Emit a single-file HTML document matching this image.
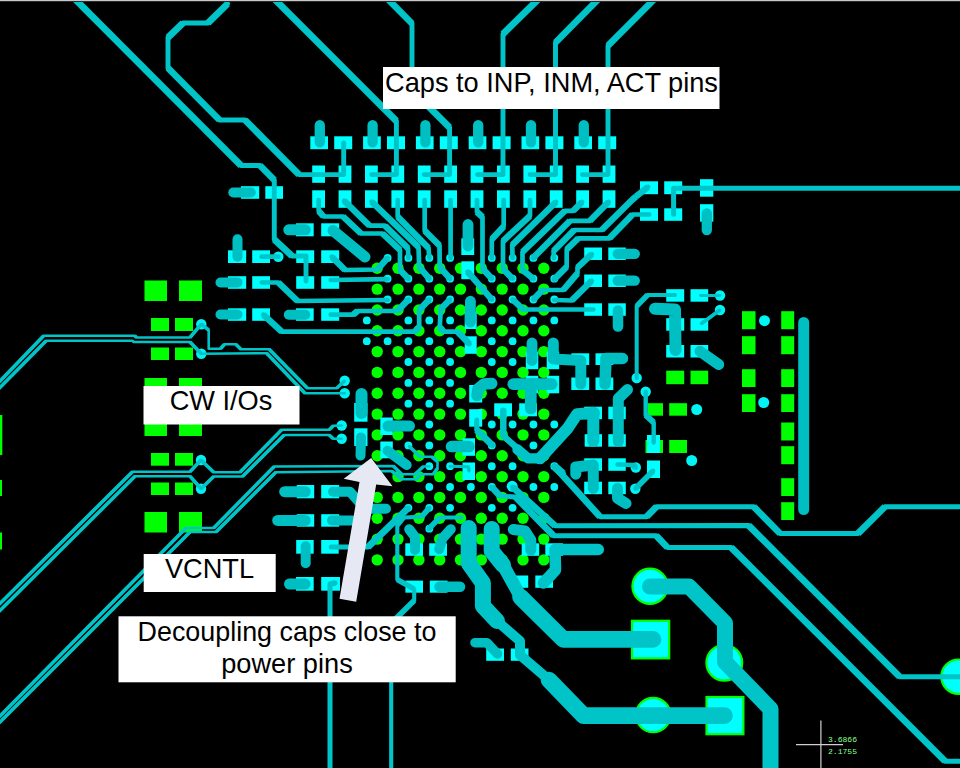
<!DOCTYPE html>
<html><head><meta charset="utf-8"><title>PCB layout</title>
<style>html,body{margin:0;padding:0;background:#000;overflow:hidden}svg{display:block}</style></head>
<body><svg width="960" height="768" viewBox="0 0 960 768">
<rect width="960" height="768" fill="#000"/>
<rect x="144.5" y="280.5" width="22.5" height="20.5" fill="#00ff00"/>
<rect x="179.0" y="280.5" width="23.0" height="20.5" fill="#00ff00"/>
<rect x="151.0" y="318.0" width="18.0" height="13.0" fill="#00ff00"/>
<rect x="175.0" y="318.0" width="18.0" height="13.0" fill="#00ff00"/>
<rect x="151.0" y="347.5" width="18.0" height="12.5" fill="#00ff00"/>
<rect x="175.0" y="347.5" width="18.0" height="12.5" fill="#00ff00"/>
<rect x="144.5" y="378.0" width="22.5" height="21.0" fill="#00ff00"/>
<rect x="179.0" y="378.0" width="23.0" height="21.0" fill="#00ff00"/>
<rect x="144.5" y="415.0" width="22.5" height="21.0" fill="#00ff00"/>
<rect x="179.0" y="415.0" width="23.0" height="21.0" fill="#00ff00"/>
<rect x="151.0" y="453.0" width="18.0" height="12.7" fill="#00ff00"/>
<rect x="175.0" y="453.0" width="18.0" height="12.7" fill="#00ff00"/>
<rect x="151.0" y="482.5" width="18.0" height="12.5" fill="#00ff00"/>
<rect x="175.0" y="482.5" width="18.0" height="12.5" fill="#00ff00"/>
<rect x="144.5" y="512.0" width="22.5" height="20.5" fill="#00ff00"/>
<rect x="179.0" y="512.0" width="23.0" height="20.5" fill="#00ff00"/>
<rect x="0.0" y="415.0" width="2.3" height="40.0" fill="#00ff00"/>
<rect x="0.0" y="480.0" width="2.0" height="16.0" fill="#00ff00"/>
<rect x="0.0" y="532.5" width="2.0" height="17.0" fill="#00ff00"/>
<rect x="666.2" y="370.7" width="18.0" height="13.5" fill="#00ff00"/>
<rect x="690.5" y="370.7" width="17.7" height="13.5" fill="#00ff00"/>
<rect x="648.0" y="403.2" width="15.0" height="12.5" fill="#00ff00"/>
<rect x="669.2" y="403.2" width="17.8" height="12.5" fill="#00ff00"/>
<rect x="645.5" y="440.0" width="17.5" height="13.0" fill="#00ff00"/>
<rect x="669.2" y="440.0" width="17.8" height="13.0" fill="#00ff00"/>
<rect x="742.0" y="311.2" width="13.5" height="18.0" fill="#00ff00"/>
<rect x="742.0" y="336.2" width="13.5" height="18.0" fill="#00ff00"/>
<rect x="742.0" y="369.2" width="13.5" height="17.8" fill="#00ff00"/>
<rect x="742.0" y="394.2" width="13.5" height="17.8" fill="#00ff00"/>
<rect x="781.2" y="311.2" width="13.0" height="18.0" fill="#00ff00"/>
<rect x="781.2" y="336.2" width="13.0" height="18.0" fill="#00ff00"/>
<rect x="781.2" y="369.2" width="13.0" height="17.8" fill="#00ff00"/>
<rect x="781.2" y="394.2" width="13.0" height="17.8" fill="#00ff00"/>
<rect x="781.2" y="422.5" width="13.0" height="18.0" fill="#00ff00"/>
<rect x="781.2" y="446.2" width="13.0" height="18.0" fill="#00ff00"/>
<rect x="781.2" y="478.2" width="13.0" height="17.8" fill="#00ff00"/>
<rect x="781.2" y="502.2" width="13.0" height="17.8" fill="#00ff00"/>
<circle cx="377.2" cy="268.3" r="5.7" fill="#00ff00"/>
<circle cx="377.2" cy="289.1" r="5.7" fill="#00ff00"/>
<circle cx="377.2" cy="310.0" r="5.7" fill="#00ff00"/>
<circle cx="377.2" cy="330.8" r="5.7" fill="#00ff00"/>
<circle cx="377.2" cy="351.6" r="5.7" fill="#00ff00"/>
<circle cx="377.2" cy="372.4" r="5.7" fill="#00ff00"/>
<circle cx="377.2" cy="393.3" r="5.7" fill="#00ff00"/>
<circle cx="377.2" cy="414.1" r="5.7" fill="#00ff00"/>
<circle cx="377.2" cy="434.9" r="5.7" fill="#00ff00"/>
<circle cx="377.2" cy="455.8" r="5.7" fill="#00ff00"/>
<circle cx="377.2" cy="476.6" r="5.7" fill="#00ff00"/>
<circle cx="377.2" cy="497.4" r="5.7" fill="#00ff00"/>
<circle cx="377.2" cy="518.3" r="5.7" fill="#00ff00"/>
<circle cx="377.2" cy="539.1" r="5.7" fill="#00ff00"/>
<circle cx="377.2" cy="559.9" r="5.7" fill="#00ff00"/>
<circle cx="398.0" cy="268.3" r="5.7" fill="#00ff00"/>
<circle cx="398.0" cy="289.1" r="5.7" fill="#00ff00"/>
<circle cx="398.0" cy="310.0" r="5.7" fill="#00ff00"/>
<circle cx="398.0" cy="330.8" r="5.7" fill="#00ff00"/>
<circle cx="398.0" cy="351.6" r="5.7" fill="#00ff00"/>
<circle cx="398.0" cy="372.4" r="5.7" fill="#00ff00"/>
<circle cx="398.0" cy="393.3" r="5.7" fill="#00ff00"/>
<circle cx="398.0" cy="414.1" r="5.7" fill="#00ff00"/>
<circle cx="398.0" cy="434.9" r="5.7" fill="#00ff00"/>
<circle cx="398.0" cy="455.8" r="5.7" fill="#00ff00"/>
<circle cx="398.0" cy="476.6" r="5.7" fill="#00ff00"/>
<circle cx="398.0" cy="497.4" r="5.7" fill="#00ff00"/>
<circle cx="398.0" cy="518.3" r="5.7" fill="#00ff00"/>
<circle cx="398.0" cy="539.1" r="5.7" fill="#00ff00"/>
<circle cx="398.0" cy="559.9" r="5.7" fill="#00ff00"/>
<circle cx="418.9" cy="268.3" r="5.7" fill="#00ff00"/>
<circle cx="418.9" cy="289.1" r="5.7" fill="#00ff00"/>
<circle cx="418.9" cy="310.0" r="5.7" fill="#00ff00"/>
<circle cx="418.9" cy="330.8" r="5.7" fill="#00ff00"/>
<circle cx="418.9" cy="351.6" r="5.7" fill="#00ff00"/>
<circle cx="418.9" cy="372.4" r="5.7" fill="#00ff00"/>
<circle cx="418.9" cy="393.3" r="5.7" fill="#00ff00"/>
<circle cx="418.9" cy="414.1" r="5.7" fill="#00ff00"/>
<circle cx="418.9" cy="434.9" r="5.7" fill="#00ff00"/>
<circle cx="418.9" cy="455.8" r="5.7" fill="#00ff00"/>
<circle cx="418.9" cy="476.6" r="5.7" fill="#00ff00"/>
<circle cx="418.9" cy="497.4" r="5.7" fill="#00ff00"/>
<circle cx="418.9" cy="518.3" r="5.7" fill="#00ff00"/>
<circle cx="418.9" cy="539.1" r="5.7" fill="#00ff00"/>
<circle cx="418.9" cy="559.9" r="5.7" fill="#00ff00"/>
<circle cx="439.7" cy="268.3" r="5.7" fill="#00ff00"/>
<circle cx="439.7" cy="289.1" r="5.7" fill="#00ff00"/>
<circle cx="439.7" cy="310.0" r="5.7" fill="#00ff00"/>
<circle cx="439.7" cy="330.8" r="5.7" fill="#00ff00"/>
<circle cx="439.7" cy="351.6" r="5.7" fill="#00ff00"/>
<circle cx="439.7" cy="372.4" r="5.7" fill="#00ff00"/>
<circle cx="439.7" cy="393.3" r="5.7" fill="#00ff00"/>
<circle cx="439.7" cy="414.1" r="5.7" fill="#00ff00"/>
<circle cx="439.7" cy="434.9" r="5.7" fill="#00ff00"/>
<circle cx="439.7" cy="455.8" r="5.7" fill="#00ff00"/>
<circle cx="439.7" cy="476.6" r="5.7" fill="#00ff00"/>
<circle cx="439.7" cy="497.4" r="5.7" fill="#00ff00"/>
<circle cx="439.7" cy="518.3" r="5.7" fill="#00ff00"/>
<circle cx="439.7" cy="539.1" r="5.7" fill="#00ff00"/>
<circle cx="439.7" cy="559.9" r="5.7" fill="#00ff00"/>
<circle cx="460.5" cy="268.3" r="5.7" fill="#00ff00"/>
<circle cx="460.5" cy="289.1" r="5.7" fill="#00ff00"/>
<circle cx="460.5" cy="310.0" r="5.7" fill="#00ff00"/>
<circle cx="460.5" cy="330.8" r="5.7" fill="#00ff00"/>
<circle cx="460.5" cy="351.6" r="5.7" fill="#00ff00"/>
<circle cx="460.5" cy="372.4" r="5.7" fill="#00ff00"/>
<circle cx="460.5" cy="393.3" r="5.7" fill="#00ff00"/>
<circle cx="460.5" cy="414.1" r="5.7" fill="#00ff00"/>
<circle cx="460.5" cy="434.9" r="5.7" fill="#00ff00"/>
<circle cx="460.5" cy="455.8" r="5.7" fill="#00ff00"/>
<circle cx="460.5" cy="476.6" r="5.7" fill="#00ff00"/>
<circle cx="460.5" cy="497.4" r="5.7" fill="#00ff00"/>
<circle cx="460.5" cy="518.3" r="5.7" fill="#00ff00"/>
<circle cx="460.5" cy="539.1" r="5.7" fill="#00ff00"/>
<circle cx="460.5" cy="559.9" r="5.7" fill="#00ff00"/>
<circle cx="481.3" cy="268.3" r="5.7" fill="#00ff00"/>
<circle cx="481.3" cy="289.1" r="5.7" fill="#00ff00"/>
<circle cx="481.3" cy="310.0" r="5.7" fill="#00ff00"/>
<circle cx="481.3" cy="330.8" r="5.7" fill="#00ff00"/>
<circle cx="481.3" cy="351.6" r="5.7" fill="#00ff00"/>
<circle cx="481.3" cy="372.4" r="5.7" fill="#00ff00"/>
<circle cx="481.3" cy="393.3" r="5.7" fill="#00ff00"/>
<circle cx="481.3" cy="414.1" r="5.7" fill="#00ff00"/>
<circle cx="481.3" cy="434.9" r="5.7" fill="#00ff00"/>
<circle cx="481.3" cy="455.8" r="5.7" fill="#00ff00"/>
<circle cx="481.3" cy="476.6" r="5.7" fill="#00ff00"/>
<circle cx="481.3" cy="497.4" r="5.7" fill="#00ff00"/>
<circle cx="481.3" cy="518.3" r="5.7" fill="#00ff00"/>
<circle cx="481.3" cy="539.1" r="5.7" fill="#00ff00"/>
<circle cx="481.3" cy="559.9" r="5.7" fill="#00ff00"/>
<circle cx="502.2" cy="268.3" r="5.7" fill="#00ff00"/>
<circle cx="502.2" cy="289.1" r="5.7" fill="#00ff00"/>
<circle cx="502.2" cy="310.0" r="5.7" fill="#00ff00"/>
<circle cx="502.2" cy="330.8" r="5.7" fill="#00ff00"/>
<circle cx="502.2" cy="351.6" r="5.7" fill="#00ff00"/>
<circle cx="502.2" cy="372.4" r="5.7" fill="#00ff00"/>
<circle cx="502.2" cy="393.3" r="5.7" fill="#00ff00"/>
<circle cx="502.2" cy="414.1" r="5.7" fill="#00ff00"/>
<circle cx="502.2" cy="434.9" r="5.7" fill="#00ff00"/>
<circle cx="502.2" cy="455.8" r="5.7" fill="#00ff00"/>
<circle cx="502.2" cy="476.6" r="5.7" fill="#00ff00"/>
<circle cx="502.2" cy="497.4" r="5.7" fill="#00ff00"/>
<circle cx="502.2" cy="518.3" r="5.7" fill="#00ff00"/>
<circle cx="502.2" cy="539.1" r="5.7" fill="#00ff00"/>
<circle cx="502.2" cy="559.9" r="5.7" fill="#00ff00"/>
<circle cx="523.0" cy="268.3" r="5.7" fill="#00ff00"/>
<circle cx="523.0" cy="289.1" r="5.7" fill="#00ff00"/>
<circle cx="523.0" cy="310.0" r="5.7" fill="#00ff00"/>
<circle cx="523.0" cy="330.8" r="5.7" fill="#00ff00"/>
<circle cx="523.0" cy="351.6" r="5.7" fill="#00ff00"/>
<circle cx="523.0" cy="372.4" r="5.7" fill="#00ff00"/>
<circle cx="523.0" cy="393.3" r="5.7" fill="#00ff00"/>
<circle cx="523.0" cy="414.1" r="5.7" fill="#00ff00"/>
<circle cx="523.0" cy="434.9" r="5.7" fill="#00ff00"/>
<circle cx="523.0" cy="455.8" r="5.7" fill="#00ff00"/>
<circle cx="523.0" cy="476.6" r="5.7" fill="#00ff00"/>
<circle cx="523.0" cy="497.4" r="5.7" fill="#00ff00"/>
<circle cx="523.0" cy="518.3" r="5.7" fill="#00ff00"/>
<circle cx="523.0" cy="539.1" r="5.7" fill="#00ff00"/>
<circle cx="523.0" cy="559.9" r="5.7" fill="#00ff00"/>
<circle cx="543.8" cy="268.3" r="5.7" fill="#00ff00"/>
<circle cx="543.8" cy="289.1" r="5.7" fill="#00ff00"/>
<circle cx="543.8" cy="310.0" r="5.7" fill="#00ff00"/>
<circle cx="543.8" cy="330.8" r="5.7" fill="#00ff00"/>
<circle cx="543.8" cy="351.6" r="5.7" fill="#00ff00"/>
<circle cx="543.8" cy="372.4" r="5.7" fill="#00ff00"/>
<circle cx="543.8" cy="393.3" r="5.7" fill="#00ff00"/>
<circle cx="543.8" cy="414.1" r="5.7" fill="#00ff00"/>
<circle cx="543.8" cy="434.9" r="5.7" fill="#00ff00"/>
<circle cx="543.8" cy="455.8" r="5.7" fill="#00ff00"/>
<circle cx="543.8" cy="476.6" r="5.7" fill="#00ff00"/>
<circle cx="543.8" cy="497.4" r="5.7" fill="#00ff00"/>
<circle cx="543.8" cy="518.3" r="5.7" fill="#00ff00"/>
<circle cx="543.8" cy="539.1" r="5.7" fill="#00ff00"/>
<circle cx="543.8" cy="559.9" r="5.7" fill="#00ff00"/>
<rect x="310.3" y="136.3" width="17.7" height="12.9" fill="#00ffff"/>
<rect x="334.2" y="136.3" width="18.0" height="12.9" fill="#00ffff"/>
<rect x="363.1" y="136.3" width="17.7" height="12.9" fill="#00ffff"/>
<rect x="387.0" y="136.3" width="18.0" height="12.9" fill="#00ffff"/>
<rect x="415.9" y="136.3" width="17.7" height="12.9" fill="#00ffff"/>
<rect x="439.8" y="136.3" width="18.0" height="12.9" fill="#00ffff"/>
<rect x="468.7" y="136.3" width="17.7" height="12.9" fill="#00ffff"/>
<rect x="492.6" y="136.3" width="18.0" height="12.9" fill="#00ffff"/>
<rect x="521.5" y="136.3" width="17.7" height="12.9" fill="#00ffff"/>
<rect x="545.4" y="136.3" width="18.0" height="12.9" fill="#00ffff"/>
<rect x="574.3" y="136.3" width="17.7" height="12.9" fill="#00ffff"/>
<rect x="598.2" y="136.3" width="18.0" height="12.9" fill="#00ffff"/>
<rect x="312.2" y="165.5" width="12.8" height="17.3" fill="#00ffff"/>
<rect x="312.2" y="190.3" width="12.8" height="17.5" fill="#00ffff"/>
<rect x="338.6" y="165.5" width="12.8" height="17.3" fill="#00ffff"/>
<rect x="338.6" y="190.3" width="12.8" height="17.5" fill="#00ffff"/>
<rect x="365.0" y="165.5" width="12.8" height="17.3" fill="#00ffff"/>
<rect x="365.0" y="190.3" width="12.8" height="17.5" fill="#00ffff"/>
<rect x="391.4" y="165.5" width="12.8" height="17.3" fill="#00ffff"/>
<rect x="391.4" y="190.3" width="12.8" height="17.5" fill="#00ffff"/>
<rect x="417.8" y="165.5" width="12.8" height="17.3" fill="#00ffff"/>
<rect x="417.8" y="190.3" width="12.8" height="17.5" fill="#00ffff"/>
<rect x="444.2" y="165.5" width="12.8" height="17.3" fill="#00ffff"/>
<rect x="444.2" y="190.3" width="12.8" height="17.5" fill="#00ffff"/>
<rect x="470.6" y="165.5" width="12.8" height="17.3" fill="#00ffff"/>
<rect x="470.6" y="190.3" width="12.8" height="17.5" fill="#00ffff"/>
<rect x="497.0" y="165.5" width="12.8" height="17.3" fill="#00ffff"/>
<rect x="497.0" y="190.3" width="12.8" height="17.5" fill="#00ffff"/>
<rect x="523.4" y="165.5" width="12.8" height="17.3" fill="#00ffff"/>
<rect x="523.4" y="190.3" width="12.8" height="17.5" fill="#00ffff"/>
<rect x="549.8" y="165.5" width="12.8" height="17.3" fill="#00ffff"/>
<rect x="549.8" y="190.3" width="12.8" height="17.5" fill="#00ffff"/>
<rect x="576.2" y="165.5" width="12.8" height="17.3" fill="#00ffff"/>
<rect x="576.2" y="190.3" width="12.8" height="17.5" fill="#00ffff"/>
<rect x="602.6" y="165.5" width="12.8" height="17.3" fill="#00ffff"/>
<rect x="602.6" y="190.3" width="12.8" height="17.5" fill="#00ffff"/>
<rect x="241.0" y="186.2" width="18.2" height="12.6" fill="#00ffff"/>
<rect x="265.3" y="186.2" width="17.7" height="12.6" fill="#00ffff"/>
<rect x="296.0" y="223.3" width="17.7" height="13.0" fill="#00ffff"/>
<rect x="321.2" y="223.3" width="18.0" height="13.0" fill="#00ffff"/>
<rect x="228.0" y="250.3" width="18.2" height="12.7" fill="#00ffff"/>
<rect x="252.2" y="250.3" width="17.8" height="12.7" fill="#00ffff"/>
<rect x="296.2" y="250.3" width="18.0" height="12.7" fill="#00ffff"/>
<rect x="321.2" y="250.3" width="18.0" height="12.7" fill="#00ffff"/>
<rect x="228.0" y="276.2" width="18.2" height="12.6" fill="#00ffff"/>
<rect x="252.2" y="276.2" width="17.8" height="12.6" fill="#00ffff"/>
<rect x="296.2" y="276.2" width="18.0" height="12.6" fill="#00ffff"/>
<rect x="321.2" y="276.2" width="18.0" height="12.6" fill="#00ffff"/>
<rect x="228.0" y="308.3" width="18.2" height="12.5" fill="#00ffff"/>
<rect x="252.2" y="308.3" width="17.8" height="12.5" fill="#00ffff"/>
<rect x="296.0" y="308.3" width="17.7" height="12.5" fill="#00ffff"/>
<rect x="321.2" y="308.3" width="18.0" height="12.5" fill="#00ffff"/>
<rect x="354.2" y="403.0" width="13.3" height="18.7" fill="#00ffff"/>
<rect x="354.2" y="428.3" width="13.3" height="17.7" fill="#00ffff"/>
<rect x="296.7" y="485.0" width="17.5" height="13.3" fill="#00ffff"/>
<rect x="321.2" y="485.0" width="18.0" height="13.3" fill="#00ffff"/>
<rect x="296.7" y="514.2" width="17.5" height="12.5" fill="#00ffff"/>
<rect x="321.2" y="514.2" width="18.0" height="12.5" fill="#00ffff"/>
<rect x="296.2" y="540.0" width="17.5" height="13.7" fill="#00ffff"/>
<rect x="321.2" y="540.0" width="17.5" height="13.7" fill="#00ffff"/>
<rect x="296.0" y="577.0" width="17.7" height="13.7" fill="#00ffff"/>
<rect x="321.2" y="577.0" width="18.8" height="13.7" fill="#00ffff"/>
<rect x="461.3" y="238.3" width="12.9" height="16.7" fill="#00ffff"/>
<rect x="461.3" y="261.3" width="12.9" height="17.9" fill="#00ffff"/>
<rect x="464.7" y="311.5" width="12.0" height="17.5" fill="#00ffff"/>
<rect x="464.7" y="336.3" width="12.0" height="17.5" fill="#00ffff"/>
<rect x="469.2" y="385.0" width="13.0" height="17.5" fill="#00ffff"/>
<rect x="469.2" y="409.2" width="13.0" height="17.5" fill="#00ffff"/>
<rect x="525.8" y="375.8" width="12.5" height="17.5" fill="#00ffff"/>
<rect x="546.7" y="375.8" width="12.5" height="17.5" fill="#00ffff"/>
<rect x="519.2" y="403.3" width="17.8" height="13.0" fill="#00ffff"/>
<rect x="494.2" y="403.3" width="17.8" height="13.0" fill="#00ffff"/>
<rect x="525.8" y="351.7" width="12.5" height="17.5" fill="#00ffff"/>
<rect x="546.7" y="351.7" width="12.5" height="17.5" fill="#00ffff"/>
<rect x="571.3" y="353.3" width="17.9" height="11.7" fill="#00ffff"/>
<rect x="571.3" y="377.5" width="17.9" height="12.5" fill="#00ffff"/>
<rect x="595.5" y="353.3" width="17.8" height="11.7" fill="#00ffff"/>
<rect x="595.5" y="377.5" width="17.8" height="12.5" fill="#00ffff"/>
<rect x="380.3" y="417.5" width="12.5" height="17.5" fill="#00ffff"/>
<rect x="380.3" y="441.5" width="12.5" height="16.8" fill="#00ffff"/>
<rect x="462.5" y="438.3" width="12.5" height="17.5" fill="#00ffff"/>
<rect x="462.5" y="462.5" width="12.5" height="17.5" fill="#00ffff"/>
<rect x="405.3" y="543.3" width="17.7" height="12.5" fill="#00ffff"/>
<rect x="429.2" y="543.3" width="17.8" height="12.5" fill="#00ffff"/>
<rect x="521.7" y="543.3" width="17.5" height="12.5" fill="#00ffff"/>
<rect x="545.3" y="543.3" width="17.7" height="12.5" fill="#00ffff"/>
<rect x="510.5" y="575.5" width="17.7" height="12.3" fill="#00ffff"/>
<rect x="535.3" y="575.5" width="17.7" height="12.3" fill="#00ffff"/>
<rect x="405.4" y="580.6" width="17.6" height="12.1" fill="#00ffff"/>
<rect x="429.8" y="580.6" width="17.7" height="12.1" fill="#00ffff"/>
<rect x="486.2" y="648.5" width="17.8" height="12.3" fill="#00ffff"/>
<rect x="510.8" y="648.5" width="17.7" height="12.3" fill="#00ffff"/>
<rect x="584.2" y="406.7" width="17.8" height="12.5" fill="#00ffff"/>
<rect x="584.7" y="434.2" width="17.3" height="12.5" fill="#00ffff"/>
<rect x="608.3" y="406.7" width="17.5" height="12.5" fill="#00ffff"/>
<rect x="608.3" y="434.2" width="17.5" height="12.5" fill="#00ffff"/>
<rect x="584.2" y="458.3" width="17.8" height="12.5" fill="#00ffff"/>
<rect x="608.3" y="458.3" width="17.5" height="12.5" fill="#00ffff"/>
<rect x="584.2" y="481.7" width="17.8" height="12.5" fill="#00ffff"/>
<rect x="608.3" y="481.7" width="17.5" height="12.5" fill="#00ffff"/>
<rect x="647.0" y="435.0" width="13.0" height="18.0" fill="#00ffff"/>
<rect x="647.0" y="460.5" width="13.0" height="17.5" fill="#00ffff"/>
<rect x="584.2" y="247.5" width="17.8" height="12.5" fill="#00ffff"/>
<rect x="608.3" y="247.5" width="17.5" height="12.5" fill="#00ffff"/>
<rect x="584.2" y="274.5" width="17.8" height="12.5" fill="#00ffff"/>
<rect x="608.3" y="274.5" width="17.5" height="12.5" fill="#00ffff"/>
<rect x="584.2" y="303.3" width="17.8" height="12.5" fill="#00ffff"/>
<rect x="608.3" y="303.3" width="17.5" height="12.5" fill="#00ffff"/>
<rect x="666.2" y="289.2" width="18.0" height="12.5" fill="#00ffff"/>
<rect x="690.5" y="289.2" width="17.7" height="12.5" fill="#00ffff"/>
<rect x="666.2" y="318.2" width="18.0" height="12.5" fill="#00ffff"/>
<rect x="690.5" y="318.2" width="17.7" height="12.5" fill="#00ffff"/>
<rect x="666.2" y="345.0" width="18.0" height="12.5" fill="#00ffff"/>
<rect x="690.5" y="345.0" width="17.7" height="12.5" fill="#00ffff"/>
<rect x="640.0" y="181.3" width="18.0" height="12.9" fill="#00ffff"/>
<rect x="664.2" y="181.3" width="18.0" height="12.9" fill="#00ffff"/>
<rect x="700.0" y="179.2" width="13.3" height="17.5" fill="#00ffff"/>
<rect x="640.0" y="208.3" width="18.0" height="12.5" fill="#00ffff"/>
<rect x="664.2" y="208.3" width="18.0" height="12.5" fill="#00ffff"/>
<rect x="700.0" y="204.2" width="13.3" height="17.5" fill="#00ffff"/>
<circle cx="650" cy="586.2" r="17.6" fill="#00ffff" stroke="#00ff00" stroke-width="2.2"/>
<circle cx="724.3" cy="662.7" r="17.9" fill="#00ffff" stroke="#00ff00" stroke-width="2.2"/>
<circle cx="653.2" cy="715" r="17.2" fill="#00ffff" stroke="#00ff00" stroke-width="2.2"/>
<circle cx="958.5" cy="676.7" r="17.2" fill="#00ffff" stroke="#00ff00" stroke-width="2.2"/>
<rect x="632" y="620.8" width="37.2" height="37.6" fill="#00ffff" stroke="#00ff00" stroke-width="2.2"/>
<rect x="706.5" y="697" width="36.9" height="37.2" fill="#00ffff" stroke="#00ff00" stroke-width="2.2"/>
<circle cx="387.6" cy="257.9" r="3.9" fill="#00f4f4"/>
<circle cx="408.4" cy="257.9" r="3.9" fill="#00f4f4"/>
<circle cx="429.3" cy="257.9" r="3.9" fill="#00f4f4"/>
<circle cx="450.1" cy="257.9" r="3.9" fill="#00f4f4"/>
<circle cx="491.8" cy="257.9" r="3.9" fill="#00f4f4"/>
<circle cx="512.6" cy="257.9" r="3.9" fill="#00f4f4"/>
<circle cx="533.4" cy="257.9" r="3.9" fill="#00f4f4"/>
<circle cx="554.3" cy="257.9" r="3.9" fill="#00f4f4"/>
<circle cx="387.6" cy="278.7" r="3.9" fill="#00f4f4"/>
<circle cx="408.4" cy="278.7" r="3.9" fill="#00f4f4"/>
<circle cx="429.3" cy="278.7" r="3.9" fill="#00f4f4"/>
<circle cx="450.1" cy="278.7" r="3.9" fill="#00f4f4"/>
<circle cx="491.8" cy="278.7" r="3.9" fill="#00f4f4"/>
<circle cx="512.6" cy="278.7" r="3.9" fill="#00f4f4"/>
<circle cx="533.4" cy="278.7" r="3.9" fill="#00f4f4"/>
<circle cx="554.3" cy="278.7" r="3.9" fill="#00f4f4"/>
<circle cx="387.6" cy="299.5" r="3.9" fill="#00f4f4"/>
<circle cx="408.4" cy="299.5" r="3.9" fill="#00f4f4"/>
<circle cx="429.3" cy="299.5" r="3.9" fill="#00f4f4"/>
<circle cx="450.1" cy="299.5" r="3.9" fill="#00f4f4"/>
<circle cx="491.8" cy="299.5" r="3.9" fill="#00f4f4"/>
<circle cx="512.6" cy="299.5" r="3.9" fill="#00f4f4"/>
<circle cx="533.4" cy="299.5" r="3.9" fill="#00f4f4"/>
<circle cx="554.3" cy="299.5" r="3.9" fill="#00f4f4"/>
<circle cx="366.8" cy="320.4" r="3.9" fill="#00f4f4"/>
<circle cx="408.4" cy="320.4" r="3.9" fill="#00f4f4"/>
<circle cx="429.3" cy="320.4" r="3.9" fill="#00f4f4"/>
<circle cx="450.1" cy="320.4" r="3.9" fill="#00f4f4"/>
<circle cx="491.8" cy="320.4" r="3.9" fill="#00f4f4"/>
<circle cx="512.6" cy="320.4" r="3.9" fill="#00f4f4"/>
<circle cx="533.4" cy="320.4" r="3.9" fill="#00f4f4"/>
<circle cx="554.3" cy="320.4" r="3.9" fill="#00f4f4"/>
<circle cx="366.8" cy="341.2" r="3.9" fill="#00f4f4"/>
<circle cx="387.6" cy="341.2" r="3.9" fill="#00f4f4"/>
<circle cx="408.4" cy="341.2" r="3.9" fill="#00f4f4"/>
<circle cx="429.3" cy="341.2" r="3.9" fill="#00f4f4"/>
<circle cx="450.1" cy="341.2" r="3.9" fill="#00f4f4"/>
<circle cx="491.8" cy="341.2" r="3.9" fill="#00f4f4"/>
<circle cx="512.6" cy="341.2" r="3.9" fill="#00f4f4"/>
<circle cx="408.4" cy="362.0" r="3.9" fill="#00f4f4"/>
<circle cx="429.3" cy="362.0" r="3.9" fill="#00f4f4"/>
<circle cx="450.1" cy="362.0" r="3.9" fill="#00f4f4"/>
<circle cx="491.8" cy="362.0" r="3.9" fill="#00f4f4"/>
<circle cx="512.6" cy="362.0" r="3.9" fill="#00f4f4"/>
<circle cx="408.4" cy="382.9" r="3.9" fill="#00f4f4"/>
<circle cx="429.3" cy="382.9" r="3.9" fill="#00f4f4"/>
<circle cx="450.1" cy="382.9" r="3.9" fill="#00f4f4"/>
<circle cx="408.4" cy="403.7" r="3.9" fill="#00f4f4"/>
<circle cx="429.3" cy="403.7" r="3.9" fill="#00f4f4"/>
<circle cx="450.1" cy="403.7" r="3.9" fill="#00f4f4"/>
<circle cx="429.3" cy="424.5" r="3.9" fill="#00f4f4"/>
<circle cx="491.8" cy="424.5" r="3.9" fill="#00f4f4"/>
<circle cx="512.6" cy="424.5" r="3.9" fill="#00f4f4"/>
<circle cx="533.4" cy="424.5" r="3.9" fill="#00f4f4"/>
<circle cx="554.3" cy="424.5" r="3.9" fill="#00f4f4"/>
<circle cx="408.4" cy="445.4" r="3.9" fill="#00f4f4"/>
<circle cx="429.3" cy="445.4" r="3.9" fill="#00f4f4"/>
<circle cx="491.8" cy="445.4" r="3.9" fill="#00f4f4"/>
<circle cx="533.4" cy="445.4" r="3.9" fill="#00f4f4"/>
<circle cx="429.3" cy="466.2" r="3.9" fill="#00f4f4"/>
<circle cx="450.1" cy="466.2" r="3.9" fill="#00f4f4"/>
<circle cx="491.8" cy="466.2" r="3.9" fill="#00f4f4"/>
<circle cx="512.6" cy="466.2" r="3.9" fill="#00f4f4"/>
<circle cx="554.3" cy="466.2" r="3.9" fill="#00f4f4"/>
<circle cx="429.3" cy="487.0" r="3.9" fill="#00f4f4"/>
<circle cx="450.1" cy="487.0" r="3.9" fill="#00f4f4"/>
<circle cx="470.9" cy="487.0" r="3.9" fill="#00f4f4"/>
<circle cx="491.8" cy="487.0" r="3.9" fill="#00f4f4"/>
<circle cx="533.4" cy="487.0" r="3.9" fill="#00f4f4"/>
<circle cx="554.3" cy="487.0" r="3.9" fill="#00f4f4"/>
<circle cx="408.4" cy="507.8" r="3.9" fill="#00f4f4"/>
<circle cx="429.3" cy="507.8" r="3.9" fill="#00f4f4"/>
<circle cx="450.1" cy="507.8" r="3.9" fill="#00f4f4"/>
<circle cx="491.8" cy="507.8" r="3.9" fill="#00f4f4"/>
<circle cx="512.6" cy="507.8" r="3.9" fill="#00f4f4"/>
<circle cx="429.3" cy="528.7" r="3.9" fill="#00f4f4"/>
<circle cx="512.2" cy="486.3" r="5.5" fill="#00f4f4"/>
<circle cx="201.3" cy="324.2" r="5.2" fill="#00f4f4"/>
<circle cx="201.3" cy="353.7" r="5.2" fill="#00f4f4"/>
<circle cx="201.0" cy="460.0" r="5.2" fill="#00f4f4"/>
<circle cx="201.0" cy="488.7" r="5.2" fill="#00f4f4"/>
<circle cx="278.3" cy="256.7" r="5.2" fill="#00f4f4"/>
<circle cx="344.7" cy="380.8" r="5.2" fill="#00f4f4"/>
<circle cx="344.7" cy="393.3" r="5.2" fill="#00f4f4"/>
<circle cx="341.7" cy="425.5" r="5.2" fill="#00f4f4"/>
<circle cx="341.7" cy="438.7" r="5.2" fill="#00f4f4"/>
<circle cx="720.0" cy="295.5" r="5.2" fill="#00f4f4"/>
<circle cx="720.0" cy="310.0" r="5.2" fill="#00f4f4"/>
<circle cx="636.7" cy="378.0" r="5.2" fill="#00f4f4"/>
<circle cx="645.7" cy="391.7" r="5.2" fill="#00f4f4"/>
<circle cx="635.8" cy="467.5" r="5.2" fill="#00f4f4"/>
<circle cx="635.3" cy="488.7" r="5.2" fill="#00f4f4"/>
<circle cx="696.7" cy="409.5" r="5.5" fill="#00f4f4"/>
<circle cx="691.7" cy="460.5" r="5.5" fill="#00f4f4"/>
<circle cx="764.5" cy="320.7" r="5.5" fill="#00f4f4"/>
<circle cx="763.7" cy="402.5" r="5.5" fill="#00f4f4"/>
<polyline points="75.0,-1.0 241.0,165.5 260.0,165.5 274.3,180.0 274.3,239.5 292.0,256.0 306.0,256.0 306.0,281.0" fill="none" stroke="#00c4c8" stroke-width="4.9" stroke-linejoin="round" stroke-linecap="round"/>
<g stroke="#00c4c8"><line x1="75.0" y1="-1.0" x2="241.0" y2="165.5" stroke-width="6.73"/><line x1="260.0" y1="165.5" x2="274.3" y2="180.0" stroke-width="6.73"/><line x1="274.3" y1="239.5" x2="292.0" y2="256.0" stroke-width="6.72"/></g>
<polyline points="227.5,3.8 208.0,23.0 183.0,23.0 168.0,37.5 168.0,68.0 219.5,120.0 245.0,120.0 299.0,174.6 343.7,174.6 343.7,143.0" fill="none" stroke="#00c4c8" stroke-width="4.9" stroke-linejoin="round" stroke-linecap="round"/>
<g stroke="#00c4c8"><line x1="227.5" y1="3.8" x2="208.0" y2="23.0" stroke-width="6.73"/><line x1="183.0" y1="23.0" x2="168.0" y2="37.5" stroke-width="6.73"/><line x1="168.0" y1="68.0" x2="219.5" y2="120.0" stroke-width="6.73"/><line x1="245.0" y1="120.0" x2="299.0" y2="174.6" stroke-width="6.73"/></g>
<polyline points="274.5,-1.0 396.4,121.0 396.4,174.6 371.7,174.6" fill="none" stroke="#00c4c8" stroke-width="4.9" stroke-linejoin="round" stroke-linecap="round"/>
<g stroke="#00c4c8"><line x1="274.5" y1="-1.0" x2="396.4" y2="121.0" stroke-width="6.73"/></g>
<polyline points="387.7,-1.0 412.0,23.5 412.0,90.0 449.6,127.5 449.6,174.6 424.2,174.6" fill="none" stroke="#00c4c8" stroke-width="4.9" stroke-linejoin="round" stroke-linecap="round"/>
<g stroke="#00c4c8"><line x1="387.7" y1="-1.0" x2="412.0" y2="23.5" stroke-width="6.73"/><line x1="412.0" y1="90.0" x2="449.6" y2="127.5" stroke-width="6.73"/></g>
<polyline points="538.5,-1.0 503.0,34.0 503.0,174.6 477.5,174.6" fill="none" stroke="#00c4c8" stroke-width="4.9" stroke-linejoin="round" stroke-linecap="round"/>
<g stroke="#00c4c8"><line x1="538.5" y1="-1.0" x2="503.0" y2="34.0" stroke-width="6.73"/></g>
<polyline points="598.5,-1.0 555.5,42.5 555.5,174.6 530.0,174.6" fill="none" stroke="#00c4c8" stroke-width="4.9" stroke-linejoin="round" stroke-linecap="round"/>
<g stroke="#00c4c8"><line x1="598.5" y1="-1.0" x2="555.5" y2="42.5" stroke-width="6.73"/></g>
<polyline points="654.5,-1.0 608.0,45.7 608.0,174.6 582.5,174.6" fill="none" stroke="#00c4c8" stroke-width="4.9" stroke-linejoin="round" stroke-linecap="round"/>
<g stroke="#00c4c8"><line x1="654.5" y1="-1.0" x2="608.0" y2="45.7" stroke-width="6.73"/></g>
<polyline points="673.6,214.2 673.6,188.2 961.0,188.2" fill="none" stroke="#00c4c8" stroke-width="5" stroke-linejoin="round" stroke-linecap="round"/>
<polyline points="318.7,200.0 318.7,211.0 323.5,216.5 343.0,216.5 361.0,233.5 382.5,233.5 400.0,250.0 400.0,270.0 408.4,278.7" fill="none" stroke="#00c4c8" stroke-width="4.7" stroke-linejoin="round" stroke-linecap="round"/>
<g stroke="#00c4c8"><line x1="318.7" y1="211.0" x2="323.5" y2="216.5" stroke-width="6.44"/><line x1="343.0" y1="216.5" x2="361.0" y2="233.5" stroke-width="6.45"/><line x1="382.5" y1="233.5" x2="400.0" y2="250.0" stroke-width="6.45"/><line x1="400.0" y1="270.0" x2="408.4" y2="278.7" stroke-width="6.45"/></g>
<polyline points="344.2,200.8 369.5,225.7 385.0,225.7 408.0,248.3 408.4,257.9" fill="none" stroke="#00c4c8" stroke-width="4.7" stroke-linejoin="round" stroke-linecap="round"/>
<g stroke="#00c4c8"><line x1="344.2" y1="200.8" x2="369.5" y2="225.7" stroke-width="6.45"/><line x1="385.0" y1="225.7" x2="408.0" y2="248.3" stroke-width="6.45"/></g>
<polyline points="371.7,201.7 418.5,247.0 419.2,267.0 429.3,278.7" fill="none" stroke="#00c4c8" stroke-width="4.7" stroke-linejoin="round" stroke-linecap="round"/>
<g stroke="#00c4c8"><line x1="371.7" y1="201.7" x2="418.5" y2="247.0" stroke-width="6.45"/><line x1="419.2" y1="267.0" x2="429.3" y2="278.7" stroke-width="6.44"/></g>
<polyline points="397.7,200.0 397.7,216.7 428.5,248.0 429.3,257.9" fill="none" stroke="#00c4c8" stroke-width="4.7" stroke-linejoin="round" stroke-linecap="round"/>
<g stroke="#00c4c8"><line x1="397.7" y1="216.7" x2="428.5" y2="248.0" stroke-width="6.45"/></g>
<polyline points="424.7,200.0 424.7,230.8 439.5,245.5 439.7,267.0 450.1,278.7" fill="none" stroke="#00c4c8" stroke-width="4.7" stroke-linejoin="round" stroke-linecap="round"/>
<g stroke="#00c4c8"><line x1="424.7" y1="230.8" x2="439.5" y2="245.5" stroke-width="6.45"/><line x1="439.7" y1="267.0" x2="450.1" y2="278.7" stroke-width="6.44"/></g>
<polyline points="450.6,200.0 450.6,257.9" fill="none" stroke="#00c4c8" stroke-width="4.7" stroke-linejoin="round" stroke-linecap="round"/>
<polyline points="477.0,200.0 477.0,212.0 482.5,217.0 482.5,268.5 491.8,278.7" fill="none" stroke="#00c4c8" stroke-width="4.7" stroke-linejoin="round" stroke-linecap="round"/>
<g stroke="#00c4c8"><line x1="477.0" y1="212.0" x2="482.5" y2="217.0" stroke-width="6.45"/><line x1="482.5" y1="268.5" x2="491.8" y2="278.7" stroke-width="6.45"/></g>
<polyline points="503.7,200.0 503.7,226.5 491.8,239.2 491.8,257.9" fill="none" stroke="#00c4c8" stroke-width="4.7" stroke-linejoin="round" stroke-linecap="round"/>
<g stroke="#00c4c8"><line x1="503.7" y1="226.5" x2="491.8" y2="239.2" stroke-width="6.45"/></g>
<polyline points="530.0,200.0 530.0,215.8 503.0,241.0 503.0,269.0 512.6,278.7" fill="none" stroke="#00c4c8" stroke-width="4.7" stroke-linejoin="round" stroke-linecap="round"/>
<g stroke="#00c4c8"><line x1="530.0" y1="215.8" x2="503.0" y2="241.0" stroke-width="6.45"/><line x1="503.0" y1="269.0" x2="512.6" y2="278.7" stroke-width="6.45"/></g>
<polyline points="556.0,202.0 512.2,245.0 512.6,257.9" fill="none" stroke="#00c4c8" stroke-width="4.7" stroke-linejoin="round" stroke-linecap="round"/>
<g stroke="#00c4c8"><line x1="556.0" y1="202.0" x2="512.2" y2="245.0" stroke-width="6.45"/></g>
<polyline points="582.0,202.0 573.3,210.8 565.0,210.8 522.5,252.0 522.5,270.0 533.4,278.7" fill="none" stroke="#00c4c8" stroke-width="4.7" stroke-linejoin="round" stroke-linecap="round"/>
<g stroke="#00c4c8"><line x1="582.0" y1="202.0" x2="573.3" y2="210.8" stroke-width="6.45"/><line x1="565.0" y1="210.8" x2="522.5" y2="252.0" stroke-width="6.45"/><line x1="522.5" y1="270.0" x2="533.4" y2="278.7" stroke-width="6.41"/></g>
<polyline points="608.5,202.0 590.0,220.8 570.0,220.8 533.0,258.0" fill="none" stroke="#00c4c8" stroke-width="4.7" stroke-linejoin="round" stroke-linecap="round"/>
<g stroke="#00c4c8"><line x1="608.5" y1="202.0" x2="590.0" y2="220.8" stroke-width="6.45"/><line x1="570.0" y1="220.8" x2="533.0" y2="258.0" stroke-width="6.45"/></g>
<polyline points="648.0,187.0 636.0,196.5 632.0,200.0 601.7,230.0 574.2,230.0 553.5,251.0 554.0,258.0" fill="none" stroke="#00c4c8" stroke-width="4.7" stroke-linejoin="round" stroke-linecap="round"/>
<g stroke="#00c4c8"><line x1="648.0" y1="187.0" x2="636.0" y2="196.5" stroke-width="6.41"/><line x1="636.0" y1="196.5" x2="632.0" y2="200.0" stroke-width="6.44"/><line x1="632.0" y1="200.0" x2="601.7" y2="230.0" stroke-width="6.45"/><line x1="574.2" y1="230.0" x2="553.5" y2="251.0" stroke-width="6.45"/></g>
<polyline points="649.2,214.5 632.5,214.5 609.5,238.3 578.3,238.3 566.7,249.5 566.7,266.7 554.0,279.5" fill="none" stroke="#00c4c8" stroke-width="4.7" stroke-linejoin="round" stroke-linecap="round"/>
<g stroke="#00c4c8"><line x1="632.5" y1="214.5" x2="609.5" y2="238.3" stroke-width="6.45"/><line x1="578.3" y1="238.3" x2="566.7" y2="249.5" stroke-width="6.45"/><line x1="566.7" y1="266.7" x2="554.0" y2="279.5" stroke-width="6.45"/></g>
<polyline points="331.7,256.7 345.0,270.0 377.5,269.5 387.6,257.9" fill="none" stroke="#00c4c8" stroke-width="4.7" stroke-linejoin="round" stroke-linecap="round"/>
<g stroke="#00c4c8"><line x1="331.7" y1="256.7" x2="345.0" y2="270.0" stroke-width="6.45"/><line x1="377.5" y1="269.5" x2="387.6" y2="257.9" stroke-width="6.44"/></g>
<polyline points="330.8,280.0 387.6,279.2" fill="none" stroke="#00c4c8" stroke-width="4.7" stroke-linejoin="round" stroke-linecap="round"/>
<polyline points="261.7,282.5 278.3,282.5 297.5,301.0 387.6,300.0" fill="none" stroke="#00c4c8" stroke-width="4.7" stroke-linejoin="round" stroke-linecap="round"/>
<g stroke="#00c4c8"><line x1="278.3" y1="282.5" x2="297.5" y2="301.0" stroke-width="6.45"/></g>
<polyline points="330.8,314.7 353.3,314.7 357.5,311.0 397.5,311.0 408.4,299.5" fill="none" stroke="#00c4c8" stroke-width="4.7" stroke-linejoin="round" stroke-linecap="round"/>
<g stroke="#00c4c8"><line x1="353.3" y1="314.7" x2="357.5" y2="311.0" stroke-width="6.44"/><line x1="397.5" y1="311.0" x2="408.4" y2="299.5" stroke-width="6.45"/></g>
<polyline points="263.3,314.7 281.7,331.7 415.0,331.7 419.2,327.0 419.2,310.0 429.3,299.5" fill="none" stroke="#00c4c8" stroke-width="4.7" stroke-linejoin="round" stroke-linecap="round"/>
<g stroke="#00c4c8"><line x1="263.3" y1="314.7" x2="281.7" y2="331.7" stroke-width="6.45"/><line x1="415.0" y1="331.7" x2="419.2" y2="327.0" stroke-width="6.44"/><line x1="419.2" y1="310.0" x2="429.3" y2="299.5" stroke-width="6.45"/></g>
<polyline points="450.1,299.5 440.8,309.0 439.7,327.5 443.5,331.7 457.5,331.7 469.5,344.0" fill="none" stroke="#00c4c8" stroke-width="4.7" stroke-linejoin="round" stroke-linecap="round"/>
<g stroke="#00c4c8"><line x1="450.1" y1="299.5" x2="440.8" y2="309.0" stroke-width="6.45"/><line x1="439.7" y1="327.5" x2="443.5" y2="331.7" stroke-width="6.44"/><line x1="457.5" y1="331.7" x2="469.5" y2="344.0" stroke-width="6.45"/></g>
<polyline points="467.5,271.7 491.8,299.5" fill="none" stroke="#00c4c8" stroke-width="4.7" stroke-linejoin="round" stroke-linecap="round"/>
<g stroke="#00c4c8"><line x1="467.5" y1="271.7" x2="491.8" y2="299.5" stroke-width="6.44"/></g>
<polyline points="261.7,256.7 278.3,256.7" fill="none" stroke="#00c4c8" stroke-width="4.7" stroke-linejoin="round" stroke-linecap="round"/>
<polyline points="476.7,420.0 476.7,430.0 492.5,445.4" fill="none" stroke="#00c4c8" stroke-width="5" stroke-linejoin="round" stroke-linecap="round"/>
<g stroke="#00c4c8"><line x1="476.7" y1="430.0" x2="492.5" y2="445.4" stroke-width="6.86"/></g>
<polyline points="503.3,410.8 503.3,435.8 517.0,448.0" fill="none" stroke="#00c4c8" stroke-width="6.5" stroke-linejoin="round" stroke-linecap="round"/>
<polyline points="450.1,466.2 468.3,466.7 469.0,471.0" fill="none" stroke="#00c4c8" stroke-width="3" stroke-linejoin="round" stroke-linecap="round"/>
<g stroke="#00c4c8"><line x1="468.3" y1="466.7" x2="469.0" y2="471.0" stroke-width="3.40"/></g>
<polyline points="428.3,529.2 440.0,517.5 461.7,517.5" fill="none" stroke="#00c4c8" stroke-width="4" stroke-linejoin="round" stroke-linecap="round"/>
<g stroke="#00c4c8"><line x1="428.3" y1="529.2" x2="440.0" y2="517.5" stroke-width="5.49"/></g>
<polyline points="429.3,507.9 421.7,516.7 403.3,517.5 397.3,525.0 397.3,579.6 414.2,589.0 414.2,600.4 398.0,616.5 391.2,623.0 391.2,769.0" fill="none" stroke="#00c4c8" stroke-width="4.1" stroke-linejoin="round" stroke-linecap="round"/>
<g stroke="#00c4c8"><line x1="429.3" y1="507.9" x2="421.7" y2="516.7" stroke-width="5.61"/><line x1="403.3" y1="517.5" x2="397.3" y2="525.0" stroke-width="5.60"/><line x1="397.3" y1="579.6" x2="414.2" y2="589.0" stroke-width="5.43"/><line x1="414.2" y1="600.4" x2="398.0" y2="616.5" stroke-width="5.63"/><line x1="398.0" y1="616.5" x2="391.2" y2="623.0" stroke-width="5.63"/></g>
<polyline points="331.2,547.0 368.0,547.0 408.4,507.9" fill="none" stroke="#00c4c8" stroke-width="5" stroke-linejoin="round" stroke-linecap="round"/>
<g stroke="#00c4c8"><line x1="368.0" y1="547.0" x2="408.4" y2="507.9" stroke-width="6.86"/></g>
<polyline points="335.0,583.0 330.0,584.0 330.0,769.0" fill="none" stroke="#00c4c8" stroke-width="5" stroke-linejoin="round" stroke-linecap="round"/>
<g stroke="#00c4c8"><line x1="335.0" y1="583.0" x2="330.0" y2="584.0" stroke-width="5.80"/></g>
<polyline points="591.7,254.2 577.5,267.5 577.5,273.3 563.3,290.0 542.5,290.0 533.4,299.5" fill="none" stroke="#00c4c8" stroke-width="4.7" stroke-linejoin="round" stroke-linecap="round"/>
<g stroke="#00c4c8"><line x1="591.7" y1="254.2" x2="577.5" y2="267.5" stroke-width="6.45"/><line x1="577.5" y1="273.3" x2="563.3" y2="290.0" stroke-width="6.43"/><line x1="542.5" y1="290.0" x2="533.4" y2="299.5" stroke-width="6.45"/></g>
<polyline points="591.7,280.8 571.7,300.5 554.3,300.0" fill="none" stroke="#00c4c8" stroke-width="4.7" stroke-linejoin="round" stroke-linecap="round"/>
<g stroke="#00c4c8"><line x1="591.7" y1="280.8" x2="571.7" y2="300.5" stroke-width="6.45"/></g>
<polyline points="593.3,309.5 523.3,309.5 512.6,299.5" fill="none" stroke="#00c4c8" stroke-width="4.7" stroke-linejoin="round" stroke-linecap="round"/>
<g stroke="#00c4c8"><line x1="523.3" y1="309.5" x2="512.6" y2="299.5" stroke-width="6.45"/></g>
<polyline points="636.7,378.0 636.7,306.2 647.5,295.0 675.0,295.0" fill="none" stroke="#00c4c8" stroke-width="4" stroke-linejoin="round" stroke-linecap="round"/>
<g stroke="#00c4c8"><line x1="636.7" y1="306.2" x2="647.5" y2="295.0" stroke-width="5.49"/></g>
<polyline points="700.5,295.5 720.0,295.5" fill="none" stroke="#00c4c8" stroke-width="2.8" stroke-linejoin="round" stroke-linecap="round"/>
<polyline points="701.2,323.7 720.0,310.0" fill="none" stroke="#00c4c8" stroke-width="2.8" stroke-linejoin="round" stroke-linecap="round"/>
<g stroke="#00c4c8"><line x1="701.2" y1="323.7" x2="720.0" y2="310.0" stroke-width="3.80"/></g>
<polyline points="645.7,391.7 645.7,415.0 653.7,422.5 653.7,442.5" fill="none" stroke="#00c4c8" stroke-width="4.4" stroke-linejoin="round" stroke-linecap="round"/>
<g stroke="#00c4c8"><line x1="645.7" y1="415.0" x2="653.7" y2="422.5" stroke-width="6.04"/></g>
<polyline points="617.5,464.5 633.0,465.0 635.8,467.5" fill="none" stroke="#00c4c8" stroke-width="4.4" stroke-linejoin="round" stroke-linecap="round"/>
<g stroke="#00c4c8"><line x1="633.0" y1="465.0" x2="635.8" y2="467.5" stroke-width="6.03"/></g>
<polyline points="635.3,488.7 653.3,470.8" fill="none" stroke="#00c4c8" stroke-width="4.2" stroke-linejoin="round" stroke-linecap="round"/>
<g stroke="#00c4c8"><line x1="635.3" y1="488.7" x2="653.3" y2="470.8" stroke-width="5.77"/></g>
<polyline points="554.3,466.2 563.0,474.0" fill="none" stroke="#00c4c8" stroke-width="6" stroke-linejoin="round" stroke-linecap="round"/>
<g stroke="#00c4c8"><line x1="554.3" y1="466.2" x2="563.0" y2="474.0" stroke-width="8.23"/></g>
<polyline points="554.3,466.2 600.0,516.7 646.7,516.7 656.5,506.7 753.7,506.7 780.0,533.5 858.0,533.5 885.0,506.7 961.0,506.7" fill="none" stroke="#00c4c8" stroke-width="4.9" stroke-linejoin="round" stroke-linecap="round"/>
<g stroke="#00c4c8"><line x1="554.3" y1="466.2" x2="600.0" y2="516.7" stroke-width="6.72"/><line x1="646.7" y1="516.7" x2="656.5" y2="506.7" stroke-width="6.73"/><line x1="753.7" y1="506.7" x2="780.0" y2="533.5" stroke-width="6.73"/><line x1="858.0" y1="533.5" x2="885.0" y2="506.7" stroke-width="6.73"/></g>
<polyline points="512.6,487.0 555.0,525.8 748.7,525.5 899.5,676.7 961.0,676.7" fill="none" stroke="#00c4c8" stroke-width="4.9" stroke-linejoin="round" stroke-linecap="round"/>
<g stroke="#00c4c8"><line x1="512.6" y1="487.0" x2="555.0" y2="525.8" stroke-width="6.72"/><line x1="748.7" y1="525.5" x2="899.5" y2="676.7" stroke-width="6.73"/></g>
<polyline points="491.8,487.0 500.0,496.0 515.5,497.0 553.5,535.7 656.2,535.7 667.5,547.5 731.2,547.5 945.0,761.2 961.0,761.2" fill="none" stroke="#00c4c8" stroke-width="4.9" stroke-linejoin="round" stroke-linecap="round"/>
<g stroke="#00c4c8"><line x1="491.8" y1="487.0" x2="500.0" y2="496.0" stroke-width="6.72"/><line x1="515.5" y1="497.0" x2="553.5" y2="535.7" stroke-width="6.73"/><line x1="656.2" y1="535.7" x2="667.5" y2="547.5" stroke-width="6.73"/><line x1="731.2" y1="547.5" x2="945.0" y2="761.2" stroke-width="6.73"/></g>
<polyline points="-1.0,382.2 43.7,335.7 135.0,335.7 136.2,337.5 190.0,337.5 201.2,324.2" fill="none" stroke="#00c4c8" stroke-width="2.6" stroke-linejoin="round" stroke-linecap="round"/>
<g stroke="#00c4c8"><line x1="-1.0" y1="382.2" x2="43.7" y2="335.7" stroke-width="3.57"/><line x1="135.0" y1="335.7" x2="136.2" y2="337.5" stroke-width="3.50"/><line x1="190.0" y1="337.5" x2="201.2" y2="324.2" stroke-width="3.56"/></g>
<polyline points="-1.0,388.5 46.2,340.7 132.5,340.7 133.7,342.0 190.0,342.0 201.2,353.7" fill="none" stroke="#00c4c8" stroke-width="2.6" stroke-linejoin="round" stroke-linecap="round"/>
<g stroke="#00c4c8"><line x1="-1.0" y1="388.5" x2="46.2" y2="340.7" stroke-width="3.57"/><line x1="190.0" y1="342.0" x2="201.2" y2="353.7" stroke-width="3.57"/></g>
<polyline points="201.2,324.2 208.7,330.0 208.7,348.7 220.5,348.7 224.5,344.3 235.8,344.3 240.8,349.2 269.2,349.2 307.5,388.3 336.7,388.3 344.7,380.8" fill="none" stroke="#00c4c8" stroke-width="2.6" stroke-linejoin="round" stroke-linecap="round"/>
<g stroke="#00c4c8"><line x1="201.2" y1="324.2" x2="208.7" y2="330.0" stroke-width="3.54"/><line x1="220.5" y1="348.7" x2="224.5" y2="344.3" stroke-width="3.57"/><line x1="235.8" y1="344.3" x2="240.8" y2="349.2" stroke-width="3.57"/><line x1="269.2" y1="349.2" x2="307.5" y2="388.3" stroke-width="3.57"/><line x1="336.7" y1="388.3" x2="344.7" y2="380.8" stroke-width="3.57"/></g>
<polyline points="201.2,353.7 266.7,353.2 305.0,393.3 344.7,393.3" fill="none" stroke="#00c4c8" stroke-width="2.6" stroke-linejoin="round" stroke-linecap="round"/>
<g stroke="#00c4c8"><line x1="266.7" y1="353.2" x2="305.0" y2="393.3" stroke-width="3.57"/></g>
<polyline points="-1.0,604.5 132.5,471.7 190.0,471.7 201.0,460.0 213.7,472.3 240.0,472.3 281.7,429.7 329.2,429.7 333.3,425.8 341.7,425.5" fill="none" stroke="#00c4c8" stroke-width="2.6" stroke-linejoin="round" stroke-linecap="round"/>
<g stroke="#00c4c8"><line x1="-1.0" y1="604.5" x2="132.5" y2="471.7" stroke-width="3.57"/><line x1="190.0" y1="471.7" x2="201.0" y2="460.0" stroke-width="3.57"/><line x1="201.0" y1="460.0" x2="213.7" y2="472.3" stroke-width="3.57"/><line x1="240.0" y1="472.3" x2="281.7" y2="429.7" stroke-width="3.57"/><line x1="329.2" y1="429.7" x2="333.3" y2="425.8" stroke-width="3.57"/></g>
<polyline points="-1.0,611.5 135.0,476.2 190.0,476.2 201.0,488.7 213.7,476.5 242.5,476.5 284.2,435.0 329.2,435.0 333.3,438.7 341.7,438.7" fill="none" stroke="#00c4c8" stroke-width="2.6" stroke-linejoin="round" stroke-linecap="round"/>
<g stroke="#00c4c8"><line x1="-1.0" y1="611.5" x2="135.0" y2="476.2" stroke-width="3.57"/><line x1="190.0" y1="476.2" x2="201.0" y2="488.7" stroke-width="3.56"/><line x1="201.0" y1="488.7" x2="213.7" y2="476.5" stroke-width="3.57"/><line x1="242.5" y1="476.5" x2="284.2" y2="435.0" stroke-width="3.57"/><line x1="329.2" y1="435.0" x2="333.3" y2="438.7" stroke-width="3.56"/></g>
<polyline points="-1.0,717.0 186.0,528.0 213.7,528.0 274.2,466.5 393.3,466.0 401.7,474.2 415.0,474.2 423.3,466.5 429.2,466.2" fill="none" stroke="#00c4c8" stroke-width="2.6" stroke-linejoin="round" stroke-linecap="round"/>
<g stroke="#00c4c8"><line x1="-1.0" y1="717.0" x2="186.0" y2="528.0" stroke-width="3.57"/><line x1="213.7" y1="528.0" x2="274.2" y2="466.5" stroke-width="3.57"/><line x1="393.3" y1="466.0" x2="401.7" y2="474.2" stroke-width="3.57"/><line x1="415.0" y1="474.2" x2="423.3" y2="466.5" stroke-width="3.57"/></g>
<polyline points="-1.0,723.0 190.0,532.0 216.0,532.0 275.8,472.2 391.7,471.0 401.7,479.2 416.7,479.2 420.8,474.2 433.3,474.2 437.5,468.3 437.5,461.7 431.7,456.7 420.0,456.7 409.2,446.2" fill="none" stroke="#00c4c8" stroke-width="2.6" stroke-linejoin="round" stroke-linecap="round"/>
<g stroke="#00c4c8"><line x1="-1.0" y1="723.0" x2="190.0" y2="532.0" stroke-width="3.57"/><line x1="216.0" y1="532.0" x2="275.8" y2="472.2" stroke-width="3.57"/><line x1="391.7" y1="471.0" x2="401.7" y2="479.2" stroke-width="3.55"/><line x1="416.7" y1="479.2" x2="420.8" y2="474.2" stroke-width="3.55"/><line x1="433.3" y1="474.2" x2="437.5" y2="468.3" stroke-width="3.52"/><line x1="437.5" y1="461.7" x2="431.7" y2="456.7" stroke-width="3.56"/><line x1="420.0" y1="456.7" x2="409.2" y2="446.2" stroke-width="3.57"/></g>
<polyline points="468.7,528.0 468.7,563.0 482.9,583.0 482.9,606.0 497.0,621.0" fill="none" stroke="#00c4c8" stroke-width="16" stroke-linejoin="round" stroke-linecap="round"/>
<polyline points="497.0,621.0 520.0,641.0 520.0,655.0 548.0,679.0" fill="none" stroke="#00c4c8" stroke-width="10" stroke-linejoin="round" stroke-linecap="round"/>
<polyline points="549.0,680.0 583.5,715.6 724.5,715.6" fill="none" stroke="#00c4c8" stroke-width="16.6" stroke-linejoin="round" stroke-linecap="round"/>
<polyline points="491.7,529.0 491.7,551.0 503.0,565.0" fill="none" stroke="#00c4c8" stroke-width="16" stroke-linejoin="round" stroke-linecap="round"/>
<polyline points="503.0,565.0 519.0,594.0" fill="none" stroke="#00c4c8" stroke-width="13" stroke-linejoin="round" stroke-linecap="round"/>
<polyline points="520.5,597.0 563.3,639.4 653.0,639.4" fill="none" stroke="#00c4c8" stroke-width="16.6" stroke-linejoin="round" stroke-linecap="round"/>
<polyline points="650.0,586.5 689.0,586.5 725.0,623.0 725.0,662.0 770.5,709.0 770.5,769.0" fill="none" stroke="#00c4c8" stroke-width="16" stroke-linejoin="round" stroke-linecap="round"/>
<polyline points="517.5,449.5 528.0,458.4 540.0,458.4" fill="none" stroke="#00c4c8" stroke-width="10.4" stroke-linejoin="round" stroke-linecap="round"/>
<polyline points="540.0,458.4 567.5,428.5 577.0,414.2 594.0,413.0" fill="none" stroke="#00c4c8" stroke-width="11.8" stroke-linejoin="round" stroke-linecap="round"/>
<polyline points="593.3,413.3 593.3,441.0" fill="none" stroke="#00c4c8" stroke-width="12" stroke-linejoin="round" stroke-linecap="round"/>
<polyline points="598.3,549.5 555.0,549.5 555.5,570.0 543.5,583.0" fill="none" stroke="#00c4c8" stroke-width="11.5" stroke-linejoin="round" stroke-linecap="round"/>
<polyline points="319.8,125.2 319.8,142.3" fill="none" stroke="#00bfc2" stroke-width="10.3" stroke-linejoin="round" stroke-linecap="round"/>
<polyline points="372.6,125.2 372.6,142.3" fill="none" stroke="#00bfc2" stroke-width="10.3" stroke-linejoin="round" stroke-linecap="round"/>
<polyline points="425.4,125.2 425.4,142.3" fill="none" stroke="#00bfc2" stroke-width="10.3" stroke-linejoin="round" stroke-linecap="round"/>
<polyline points="478.2,125.2 478.2,142.3" fill="none" stroke="#00bfc2" stroke-width="10.3" stroke-linejoin="round" stroke-linecap="round"/>
<polyline points="531.0,125.2 531.0,142.3" fill="none" stroke="#00bfc2" stroke-width="10.3" stroke-linejoin="round" stroke-linecap="round"/>
<polyline points="583.8,125.2 583.8,142.3" fill="none" stroke="#00bfc2" stroke-width="10.3" stroke-linejoin="round" stroke-linecap="round"/>
<polyline points="233.3,192.5 250.8,192.5" fill="none" stroke="#00bfc2" stroke-width="10" stroke-linejoin="round" stroke-linecap="round"/>
<polyline points="288.8,229.8 305.3,229.8" fill="none" stroke="#00bfc2" stroke-width="11" stroke-linejoin="round" stroke-linecap="round"/>
<polyline points="333.0,230.5 365.0,257.0" fill="none" stroke="#00bfc2" stroke-width="11" stroke-linejoin="round" stroke-linecap="round"/>
<polyline points="237.5,239.2 237.5,256.7" fill="none" stroke="#00bfc2" stroke-width="10" stroke-linejoin="round" stroke-linecap="round"/>
<polyline points="220.5,282.5 237.5,282.5" fill="none" stroke="#00bfc2" stroke-width="10" stroke-linejoin="round" stroke-linecap="round"/>
<polyline points="220.5,314.5 237.5,314.5" fill="none" stroke="#00bfc2" stroke-width="10" stroke-linejoin="round" stroke-linecap="round"/>
<polyline points="288.8,314.7 305.3,314.7" fill="none" stroke="#00bfc2" stroke-width="10" stroke-linejoin="round" stroke-linecap="round"/>
<polyline points="361.5,394.0 361.5,413.0" fill="none" stroke="#00bfc2" stroke-width="12" stroke-linejoin="round" stroke-linecap="round"/>
<polyline points="361.0,437.5 360.5,455.5" fill="none" stroke="#00bfc2" stroke-width="10" stroke-linejoin="round" stroke-linecap="round"/>
<polyline points="284.7,491.7 305.3,491.7" fill="none" stroke="#00bfc2" stroke-width="11" stroke-linejoin="round" stroke-linecap="round"/>
<polyline points="333.0,491.7 350.0,491.7 365.0,508.7 386.0,508.7" fill="none" stroke="#00bfc2" stroke-width="10" stroke-linejoin="round" stroke-linecap="round"/>
<polyline points="277.7,520.4 305.3,520.4" fill="none" stroke="#00bfc2" stroke-width="11" stroke-linejoin="round" stroke-linecap="round"/>
<polyline points="332.0,520.4 352.0,520.4" fill="none" stroke="#00bfc2" stroke-width="10" stroke-linejoin="round" stroke-linecap="round"/>
<polyline points="305.7,546.2 305.7,563.2" fill="none" stroke="#00bfc2" stroke-width="10" stroke-linejoin="round" stroke-linecap="round"/>
<polyline points="289.5,584.0 305.0,584.0" fill="none" stroke="#00bfc2" stroke-width="11" stroke-linejoin="round" stroke-linecap="round"/>
<polyline points="468.0,224.5 468.0,246.0" fill="none" stroke="#00bfc2" stroke-width="10.8" stroke-linejoin="round" stroke-linecap="round"/>
<polyline points="470.4,301.2 470.4,322.0" fill="none" stroke="#00bfc2" stroke-width="10.8" stroke-linejoin="round" stroke-linecap="round"/>
<polyline points="477.0,395.5 478.0,389.0 484.0,384.0 491.7,383.5" fill="none" stroke="#00bfc2" stroke-width="11.5" stroke-linejoin="round" stroke-linecap="round"/>
<polyline points="513.3,384.2 551.7,384.2" fill="none" stroke="#00bfc2" stroke-width="11.7" stroke-linejoin="round" stroke-linecap="round"/>
<polyline points="530.8,384.0 530.8,408.5" fill="none" stroke="#00bfc2" stroke-width="11.7" stroke-linejoin="round" stroke-linecap="round"/>
<polyline points="532.0,343.0 532.0,360.5" fill="none" stroke="#00bfc2" stroke-width="10.8" stroke-linejoin="round" stroke-linecap="round"/>
<polyline points="553.3,343.0 553.3,359.0 580.8,360.5 580.8,384.0" fill="none" stroke="#00bfc2" stroke-width="11" stroke-linejoin="round" stroke-linecap="round"/>
<polyline points="622.5,358.5 606.0,358.5 605.0,384.0" fill="none" stroke="#00bfc2" stroke-width="11.5" stroke-linejoin="round" stroke-linecap="round"/>
<polyline points="388.0,426.0 409.5,426.0" fill="none" stroke="#00bfc2" stroke-width="11" stroke-linejoin="round" stroke-linecap="round"/>
<polyline points="387.5,450.8 406.7,465.0" fill="none" stroke="#00bfc2" stroke-width="10" stroke-linejoin="round" stroke-linecap="round"/>
<polyline points="451.5,446.6 469.0,446.6" fill="none" stroke="#00bfc2" stroke-width="11.5" stroke-linejoin="round" stroke-linecap="round"/>
<polyline points="409.2,529.2 415.0,537.0 415.0,550.0" fill="none" stroke="#00bfc2" stroke-width="10" stroke-linejoin="round" stroke-linecap="round"/>
<polyline points="450.8,529.2 442.5,538.3 439.2,549.2" fill="none" stroke="#00bfc2" stroke-width="10" stroke-linejoin="round" stroke-linecap="round"/>
<polyline points="513.3,529.5 525.0,531.0 530.8,540.0 530.8,550.0" fill="none" stroke="#00bfc2" stroke-width="11" stroke-linejoin="round" stroke-linecap="round"/>
<polyline points="439.5,586.8 460.0,586.8" fill="none" stroke="#00bfc2" stroke-width="10.5" stroke-linejoin="round" stroke-linecap="round"/>
<polyline points="475.0,642.7 487.0,642.7 497.5,654.0" fill="none" stroke="#00bfc2" stroke-width="9.6" stroke-linejoin="round" stroke-linecap="round"/>
<polyline points="627.5,389.5 618.3,398.5 618.3,441.5" fill="none" stroke="#00bfc2" stroke-width="11" stroke-linejoin="round" stroke-linecap="round"/>
<polyline points="575.8,474.2 575.8,467.0 593.3,465.0 593.3,488.3" fill="none" stroke="#00bfc2" stroke-width="11" stroke-linejoin="round" stroke-linecap="round"/>
<polyline points="617.5,488.3 617.5,498.3 626.0,503.5" fill="none" stroke="#00bfc2" stroke-width="11" stroke-linejoin="round" stroke-linecap="round"/>
<polyline points="617.7,253.8 634.8,253.8" fill="none" stroke="#00bfc2" stroke-width="10.3" stroke-linejoin="round" stroke-linecap="round"/>
<polyline points="617.7,280.6 634.8,280.6" fill="none" stroke="#00bfc2" stroke-width="10.3" stroke-linejoin="round" stroke-linecap="round"/>
<polyline points="618.0,310.5 618.0,326.5" fill="none" stroke="#00bfc2" stroke-width="10.5" stroke-linejoin="round" stroke-linecap="round"/>
<polyline points="655.0,308.7 675.0,309.5 675.5,350.0" fill="none" stroke="#00bfc2" stroke-width="12" stroke-linejoin="round" stroke-linecap="round"/>
<polyline points="700.0,351.2 718.7,364.5" fill="none" stroke="#00bfc2" stroke-width="11" stroke-linejoin="round" stroke-linecap="round"/>
<polyline points="706.8,213.5 706.8,230.0" fill="none" stroke="#00bfc2" stroke-width="10.3" stroke-linejoin="round" stroke-linecap="round"/>
<polyline points="803.7,322.5 803.7,509.5" fill="none" stroke="#00bfc2" stroke-width="11" stroke-linejoin="round" stroke-linecap="round"/>

<polygon points="371.2,458 343.7,478.7 359.5,482 339.5,598.7 356.2,601.7 376.2,484.5 392.5,486.2" fill="#e6e8f4"/>
<rect x="383" y="67" width="336.5" height="42" fill="#fff"/>
<text x="551.5" y="92" text-anchor="middle" font-size="27.2" font-family="Liberation Sans, Arial, sans-serif" fill="#000">Caps to INP, INM, ACT pins</text>
<rect x="143.5" y="386" width="156" height="38.5" fill="#fff"/>
<text x="221" y="410.2" text-anchor="middle" font-size="27.2" font-family="Liberation Sans, Arial, sans-serif" fill="#000">CW I/Os</text>
<rect x="143.7" y="554" width="132" height="38" fill="#fff"/>
<text x="209.5" y="578.2" text-anchor="middle" font-size="27.2" font-family="Liberation Sans, Arial, sans-serif" fill="#000">VCNTL</text>
<rect x="118.5" y="616.3" width="337.2" height="66" fill="#fff"/>
<text x="287" y="640.5" text-anchor="middle" font-size="26.9" font-family="Liberation Sans, Arial, sans-serif" fill="#000">Decoupling caps close to</text>
<text x="287" y="673" text-anchor="middle" font-size="27.2" font-family="Liberation Sans, Arial, sans-serif" fill="#000">power pins</text>
<rect x="0" y="0" width="960" height="1" fill="#c8c8c8"/><rect x="0" y="1" width="960" height="1" fill="#2a2a2a"/>
<path d="M820.9 720.4V768M796 744.6H843" stroke="#d0d0d0" stroke-width="1.2" fill="none"/>
<text x="828" y="742.2" font-size="8" font-family="Liberation Mono, monospace" fill="#8cff8c" textLength="29" lengthAdjust="spacingAndGlyphs">3.6866</text>
<text x="828" y="753.6" font-size="8" font-family="Liberation Mono, monospace" fill="#8cff8c" textLength="29" lengthAdjust="spacingAndGlyphs">2.1755</text>

</svg></body></html>
